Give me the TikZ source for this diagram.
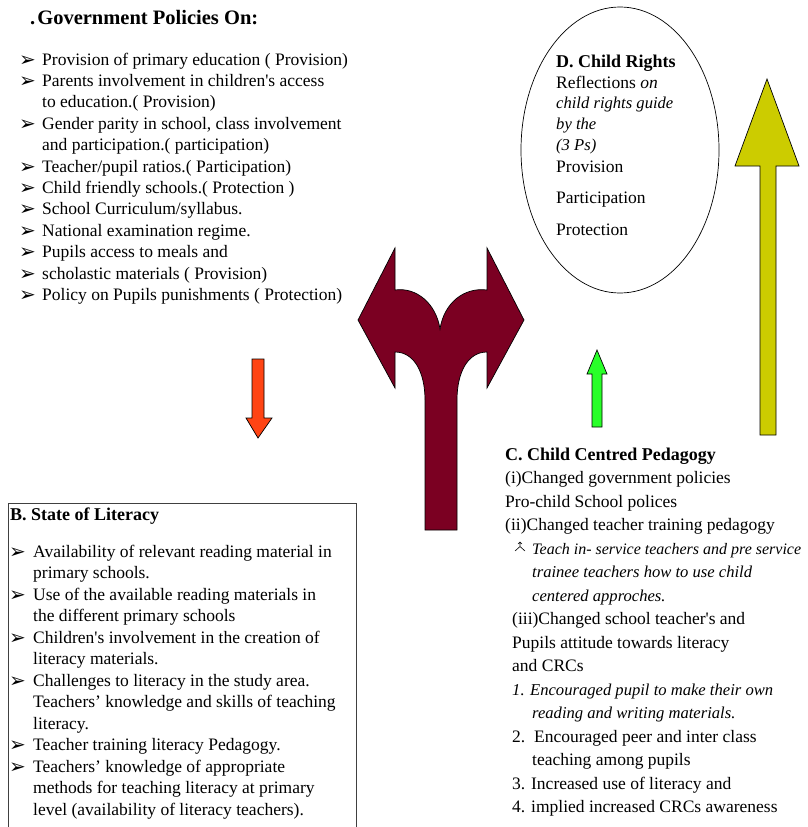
\documentclass[tikz,border=0pt]{standalone}
\usepackage{fontspec}
\setmainfont{Liberation Serif}
\newfontfamily\dingfont{DejaVu Sans}
\usetikzlibrary{shapes.geometric}
\definecolor{maroonA}{RGB}{123,0,34}
\definecolor{yellowA}{RGB}{204,204,0}
\definecolor{greenA}{RGB}{40,255,40}
\definecolor{orangeA}{RGB}{255,68,20}
\begin{document}
\begin{tikzpicture}[x=1pt,y=-1pt,
  txt/.style={anchor=base west,inner sep=0pt,font=\fontsize{17.5}{21}\selectfont},
  itxt/.style={txt,font=\fontsize{16.6}{21}\selectfont\itshape},
  btxt/.style={txt,font=\fontsize{18}{21}\selectfont\bfseries},
  bul/.style={anchor=base west,inner sep=0pt,font=\dingfont\fontsize{20}{20}\selectfont},
  blockarrow/.style={draw=black,line width=0.7pt,line join=miter}]
\useasboundingbox (0,0) rectangle (808,827);
\fill[white] (0,0) rectangle (808,827);

% ---------- A. Government policies ----------
\node[txt,font=\fontsize{20.5}{24}\selectfont\bfseries] (gtitle) at (30,24) {.\kern2pt Government Policies On:};
\foreach \n/\y/\t in {
  1/65/{Provision of primary education ( Provision)},
  2/86.4/{Parents involvement in children\textquotesingle s access},
  3/107.8/{to education.( Provision)},
  4/129.2/{Gender parity in school, class involvement},
  5/150.6/{and participation.( participation)},
  6/172/{Teacher/pupil ratios.( Participation)},
  7/193.4/{Child friendly schools.( Protection )},
  8/214.8/{School Curriculum/syllabus.},
  9/236.2/{National examination regime.},
  10/257.6/{Pupils access to meals and},
  11/279/{scholastic materials ( Provision)},
  12/300.4/{Policy on Pupils punishments ( Protection)}}
  {\node[txt] (g\n) at (42,\y) {\t};}
\foreach \n/\y in {1/65,2/86.4,4/129.2,6/172,7/193.4,8/214.8,9/236.2,10/257.6,11/279,12/300.4}
  {\node[bul] (gb\n) at (19,\y+1) {➢};}

% ---------- D. Child rights ----------
\node[draw,ellipse,line width=0.7pt,minimum width=198pt,minimum height=286pt,inner sep=0pt] (D) at (620,150) {};
\node[btxt] (d1) at (556,67) {D. Child Rights};
\node[txt] (d2) at (556,88) {Reflections \textit{on}};
\node[itxt] (d3) at (556,108.5) {child rights guide};
\node[itxt] (d4) at (556,129.5) {by the};
\node[itxt] (d5) at (556,150) {(3 Ps)};
\node[txt] (d6) at (556,172) {Provision};
\node[txt] (d7) at (556,203.5) {Participation};
\node[txt] (d8) at (556,235) {Protection};

% ---------- block arrows ----------
\filldraw[fill=maroonA,blockarrow] (358,320) -- (395,248) -- (395,290)
  .. controls (416,287) and (436,303) .. (440,329)
  .. controls (444,303) and (464,287) .. (487,290)
  -- (487,248) -- (524,320) -- (487,388) -- (487,352)
  .. controls (468,352) and (457,372) .. (457,400)
  -- (457,530) -- (425,530) -- (425,400)
  .. controls (425,372) and (414,352) .. (395,352)
  -- (395,388) -- cycle;
\filldraw[fill=yellowA,blockarrow] (760,435) -- (760,166) -- (735,166) -- (767,79) -- (799,166) -- (776,166) -- (776,435) -- cycle;
\filldraw[fill=greenA,blockarrow] (592,427) -- (592,374) -- (587,374) -- (597,350) -- (607,374) -- (602,374) -- (602,427) -- cycle;
\filldraw[fill=orangeA,blockarrow] (252,359) -- (264,359) -- (264,418) -- (272,418) -- (258,438) -- (246,418) -- (252,418) -- cycle;

% ---------- B. State of literacy ----------
\draw[line width=1pt,black!75] (8,827) -- (8,503) -- (356,503) -- (356,827);
\node[btxt] (btitle) at (10,520) {B. State of Literacy};
\foreach \n/\y/\x/\t in {
  1/557/33/{Availability of relevant reading material in},
  2/578.5/33/{primary schools.},
  3/600/33/{Use of the available reading materials in},
  4/621.5/33/{the different primary schools},
  5/643/33/{Children\textquotesingle s involvement in the creation of},
  6/664.5/33/{literacy materials.},
  7/686/33/{Challenges to literacy in the study area.},
  8/707.5/33/{Teachers’ knowledge and skills of teaching},
  9/729/33/{literacy.},
  10/750.5/33/{Teacher training literacy Pedagogy.},
  11/772/33/{Teachers’ knowledge of appropriate},
  12/793.5/33/{methods for teaching literacy at primary},
  13/815/33/{level (availability of literacy teachers).}}
  {\node[txt] (b\n) at (\x,\y) {\t};}
\foreach \n/\y in {1/557,3/600,5/643,7/686,10/750.5,11/772}
  {\node[bul] (bb\n) at (9,\y+1) {➢};}

% ---------- C. Child centred pedagogy ----------
\node[btxt] (c0) at (505,460) {C. Child Centred Pedagogy};
\node[txt] (c1) at (505,483.5) {(i)Changed government policies};
\node[txt] (c2) at (505,507) {Pro-child School polices};
\node[txt] (c3) at (505,530.5) {(ii)Changed teacher training pedagogy};
\draw[line width=0.6pt] (520,542) -- (520,546.5) -- (515,551) (520,546.5) -- (525,551) (518,544) -- (520,542) -- (522,544);
\node[itxt,font=\fontsize{16}{21}\selectfont\itshape] (c4) at (532,554) {Teach in- service teachers and pre service};
\node[itxt] (c5) at (532,577.5) {trainee teachers how to use child};
\node[itxt] (c6) at (532,601) {centered approches.};
\node[txt] (c7) at (512,624.5) {(iii)Changed school teacher\textquotesingle s and};
\node[txt] (c8) at (512,648) {Pupils attitude towards literacy};
\node[txt] (c9) at (512,671.5) {and CRCs};
\node[itxt] (c10) at (512,695) {1. Encouraged pupil to make their own};
\node[itxt] (c11) at (532,718.5) {reading and writing materials.};
\node[txt] (c12) at (512,742) {2.\ \ Encouraged peer and inter class};
\node[txt] (c13) at (532,765.5) {teaching among pupils};
\node[txt] (c14) at (512,789) {3. Increased use of literacy and};
\node[txt] (c15) at (512,812.5) {4. implied increased CRCs awareness};
\end{tikzpicture}
\end{document}
